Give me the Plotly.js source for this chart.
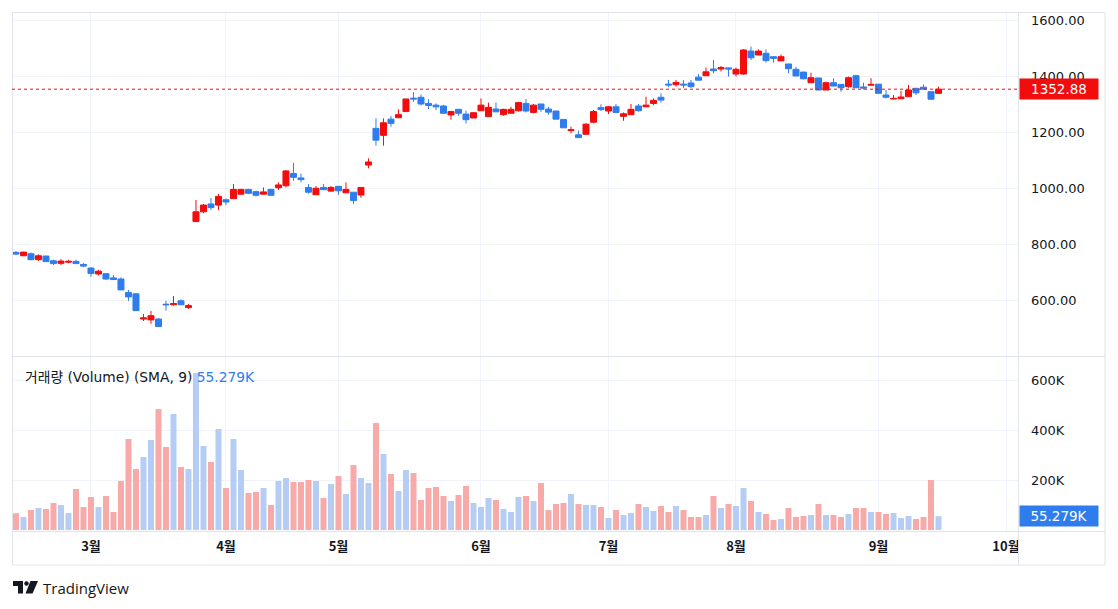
<!DOCTYPE html>
<html>
<head>
<meta charset="utf-8">
<script src="https://cdn.plot.ly/plotly-3.0.1.min.js"></script>
<style>
  html, body { margin: 0; padding: 0; background: #ffffff; }
  #chart { width: 1118px; height: 609px; }
</style>
</head>
<body>
<div id="chart"></div>
<script>
// ---- data ----
const openP  = [770,758,765,744,757,740,731,735,738,727,714,693,694,679,675,627,622,532,529,532,585,583,597,573,
  880,915,943,939,958,962,978,995,987,978,995,1001,1008,1052,1036,1002,976,1002,989,1006,983,985,975,1082,
  1213,1188,1246,1251,1273,1321,1324,1302,1296,1293,1261,1281,1264,1250,1276,1255,1282,1262,1267,1276,1302,1270,1300,1282,1275,
  1245,1205,1190,1192,1235,1287,1275,1290,1256,1262,1293,1290,1302,1324,1371,1369,1371,1375,1396,1401,1425,
  1425,1429,1407,1407,1489,1475,1481,1469,1454,1443,1424,1414,1376,1393,1350,1376,1370,1362,1401,1361,1367,1371,
  1332,1318,1319,1326,1356,1360,1344,1338];
const highP  = [775,772,770,763,758,744,746,744,744,732,717,708,694,689,681,636,624,550,561,535,597,614,602,586,
  957,943,964,979,963,1014,997,997,990,1002,997,1020,1064,1090,1052,1014,1007,1014,1007,1007,1020,985,1002,1106,
  1249,1249,1257,1281,1318,1342,1334,1317,1302,1297,1276,1281,1276,1269,1320,1305,1305,1283,1290,1308,1318,1300,1300,1290,1275,
  1245,1219,1205,1232,1279,1299,1293,1300,1270,1300,1300,1326,1320,1338,1386,1386,1385,1386,1407,1430,1457,
  1436,1430,1430,1496,1505,1495,1495,1469,1477,1443,1433,1415,1412,1393,1380,1392,1370,1398,1405,1376,1392,1371,
  1350,1332,1347,1368,1358,1370,1344,1362];
const lowP   = [760,757,742,740,736,725,725,731,730,717,683,688,671,673,636,597,561,525,515,505,562,580,583,568,
  880,910,921,921,939,962,976,979,969,976,972,993,1002,1026,1020,980,976,993,986,976,983,943,965,1070,
  1151,1151,1219,1251,1273,1308,1295,1282,1278,1267,1244,1258,1230,1250,1276,1255,1272,1258,1267,1273,1270,1267,1272,1262,1246,
  1215,1195,1180,1189,1231,1275,1264,1267,1240,1262,1273,1290,1296,1305,1360,1362,1357,1357,1385,1401,1410,
  1416,1398,1398,1405,1457,1475,1448,1448,1454,1410,1400,1388,1376,1350,1350,1364,1344,1358,1358,1352,1367,1338,
  1320,1317,1317,1326,1332,1350,1317,1336];
const closeP = [764,771,744,758,737,730,739,738,730,721,695,703,675,673,636,611,562,536,544,505,583,587,583,580,
  915,939,930,970,950,995,995,981,974,986,974,1011,1061,1038,1030,985,999,994,1002,990,995,955,1002,1093,
  1171,1233,1231,1262,1318,1318,1300,1295,1290,1267,1273,1267,1244,1269,1296,1288,1272,1281,1281,1305,1275,1296,1281,1271,1246,
  1215,1208,1180,1228,1273,1280,1290,1270,1265,1281,1276,1296,1313,1314,1368,1377,1368,1362,1385,1415,1419,
  1430,1425,1424,1493,1465,1489,1455,1463,1469,1426,1400,1390,1394,1350,1376,1364,1358,1394,1358,1357,1370,1338,
  1324,1320,1325,1350,1340,1353,1317,1352.88];
const volume = [67000,52000,80000,88000,84000,108000,100000,68000,164000,92000,132000,92000,136000,72000,196000,364000,
  244000,292000,360000,484000,332000,464000,252000,244000,628000,336000,272000,404000,168000,364000,240000,148000,152000,
  168000,100000,196000,208000,192000,192000,200000,196000,128000,184000,216000,144000,260000,208000,188000,428000,304000,
  224000,156000,240000,228000,120000,168000,172000,136000,116000,140000,176000,108000,92000,128000,120000,
  84000,72000,132000,136000,116000,188000,80000,104000,108000,144000,104000,100000,100000,92000,48000,80000,60000,68000,
  104000,92000,76000,96000,72000,96000,80000,52000,52000,60000,136000,88000,104000,96000,
  168000,116000,72000,64000,40000,44000,88000,52000,56000,60000,104000,60000,60000,52000,64000,88000,88000,72000,72000,
  64000,68000,48000,56000,44000,52000,200000,55279];
const monthTickPos = [10, 28, 43, 62, 79, 96, 115, 132];
const monthTickText = ['3월','4월','5월','6월','7월','8월','9월','10월'];
const priceTicks = [600, 800, 1000, 1200, 1400, 1600];
const volTicks = [200000, 400000, 600000];
const volTickText = ['200K','400K','600K'];
const lastPrice = 1352.88;
const lastVolumeLabel = '55.279K';
const legendText = '거래량 (Volume) (SMA, 9)';

// ---- styles ----
const RED = '#f20d0d';
const BLUE = '#2f7ded';
const VOL_DOWN = '#f8aaa9';
const VOL_UP = '#b5cdf5';
const GRID = '#f0f3fa';
const BORDER = '#e0e3eb';
const TXT = '#131722';
const FONT = 'DejaVu Sans, Noto Sans CJK KR, sans-serif';
const FONT_KR = 'Noto Sans CJK KR, sans-serif';

const xIdx = closeP.map((_, i) => i);
const volColors = closeP.map((c, i) => (c < openP[i] ? VOL_DOWN : VOL_UP));

// pixel -> paper helpers (layout geometry only)
const L = 12, T = 12, W = 1006, H = 519;
const px = x => (x - L) / W;
const py = y => (T + H - y) / H;
function path(pts) {
  return 'M' + pts.map(p => px(p[0]) + ',' + py(p[1])).join(' L') + ' Z';
}

const candle = {
  type: 'candlestick',
  x: xIdx, open: openP, high: highP, low: lowP, close: closeP,
  xaxis: 'x', yaxis: 'y',
  increasing: { line: { color: RED, width: 1 }, fillcolor: RED },
  decreasing: { line: { color: BLUE, width: 1 }, fillcolor: BLUE },
  whiskerwidth: 0,
  hoverinfo: 'skip',
  showlegend: false
};
const vol = {
  type: 'bar',
  x: xIdx, y: volume,
  xaxis: 'x', yaxis: 'y2',
  marker: { color: volColors, line: { width: 0 } },
  hoverinfo: 'skip',
  showlegend: false
};

const layout = {
  width: 1118, height: 609,
  margin: { l: L, r: 1118 - L - W, t: T, b: 609 - T - H },
  paper_bgcolor: '#ffffff', plot_bgcolor: '#ffffff',
  font: { family: FONT, color: TXT, size: 13 },
  showlegend: false,
  boxgap: 0.2, boxgroupgap: 0,
  bargap: 0.2,
  xaxis: {
    range: [-0.53, 133.6],
    anchor: 'y2',
    rangeslider: { visible: false },
    tickvals: monthTickPos,
    ticktext: monthTickText.map(t => '<b>' + t + '</b>'),
    tickfont: { size: 13, color: TXT, family: FONT_KR },
    ticks: '', ticklabelstandoff: 6,
    showgrid: true, gridcolor: GRID, gridwidth: 1,
    zeroline: false, showline: false
  },
  yaxis: {
    domain: [py(356), 1],
    range: [400, 1628.6],
    side: 'right', anchor: 'x',
    tickvals: priceTicks,
    ticktext: priceTicks.map(v => v.toFixed(2)),
    tickfont: { size: 13, color: TXT, family: FONT },
    ticks: '', ticklabelstandoff: 12,
    showgrid: true, gridcolor: GRID, gridwidth: 1,
    zeroline: false, showline: false
  },
  yaxis2: {
    domain: [0, py(357)],
    range: [-4000, 692000],
    side: 'right', anchor: 'x',
    tickvals: volTicks, ticktext: volTickText,
    tickfont: { size: 13, color: TXT, family: FONT },
    ticks: '', ticklabelstandoff: 12,
    showgrid: true, gridcolor: GRID, gridwidth: 1,
    zeroline: false, showline: false
  },
  shapes: [
    { type: 'rect', xref: 'paper', yref: 'paper', x0: px(12.5), x1: px(1105), y0: py(565), y1: py(12.5),
      line: { color: BORDER, width: 1 }, fillcolor: 'rgba(0,0,0,0)', layer: 'above' },
    { type: 'line', xref: 'paper', yref: 'paper', x0: px(1018.5), x1: px(1018.5), y0: py(565), y1: py(12.5),
      line: { color: BORDER, width: 1 }, layer: 'above' },
    { type: 'line', xref: 'paper', yref: 'paper', x0: px(12.5), x1: px(1105), y0: py(356.5), y1: py(356.5),
      line: { color: BORDER, width: 1 }, layer: 'above' },
    { type: 'line', xref: 'paper', yref: 'paper', x0: px(12.5), x1: px(1105), y0: py(531.5), y1: py(531.5),
      line: { color: BORDER, width: 1 }, layer: 'above' },
    { type: 'line', xref: 'paper', yref: 'y', x0: 0, x1: 1, y0: lastPrice, y1: lastPrice,
      line: { color: RED, width: 1, dash: 'dot' }, layer: 'above' },
    { type: 'path', xref: 'paper', yref: 'paper', path: path([[13,581],[23,581],[23,593.5],[18,593.5],[18,586],[13,586]]),
      fillcolor: TXT, line: { width: 0 } },
    { type: 'circle', xref: 'paper', yref: 'paper', x0: px(24.3), x1: px(28.7), y0: py(585.7), y1: py(581.3),
      fillcolor: TXT, line: { width: 0 } },
    { type: 'path', xref: 'paper', yref: 'paper', path: path([[30.5,581],[38,581],[32.5,593.5],[25.5,593.5]]),
      fillcolor: TXT, line: { width: 0 } }
  ],
  annotations: [
    { xref: 'paper', yref: 'paper', x: px(23), y: py(377), xanchor: 'left', yanchor: 'middle',
      text: legendText + ' <span style="color:' + BLUE + '">' + lastVolumeLabel + '</span>',
      showarrow: false, font: { size: 13.8, color: TXT, family: FONT } },
    { xref: 'paper', yref: 'y', x: px(1019), y: lastPrice, xanchor: 'left', yanchor: 'middle',
      text: lastPrice.toFixed(2), showarrow: false, bgcolor: RED, width: 74, height: 16, borderpad: 2,
      align: 'center', font: { size: 13.5, color: '#ffffff', family: FONT } },
    { xref: 'paper', yref: 'y2', x: px(1019), y: volume[volume.length - 1], xanchor: 'left', yanchor: 'middle',
      text: lastVolumeLabel, showarrow: false, bgcolor: BLUE, width: 74, height: 16, borderpad: 2,
      align: 'center', font: { size: 13.5, color: '#ffffff', family: FONT } },
    { xref: 'paper', yref: 'paper', x: px(41), y: py(587.5), xanchor: 'left', yanchor: 'middle',
      text: 'TradingView', showarrow: false, font: { size: 15, color: TXT, family: 'Open Sans, sans-serif' } }
  ]
};

Plotly.newPlot('chart', [vol, candle], layout, { staticPlot: true, displayModeBar: false });
</script>
</body>
</html>
